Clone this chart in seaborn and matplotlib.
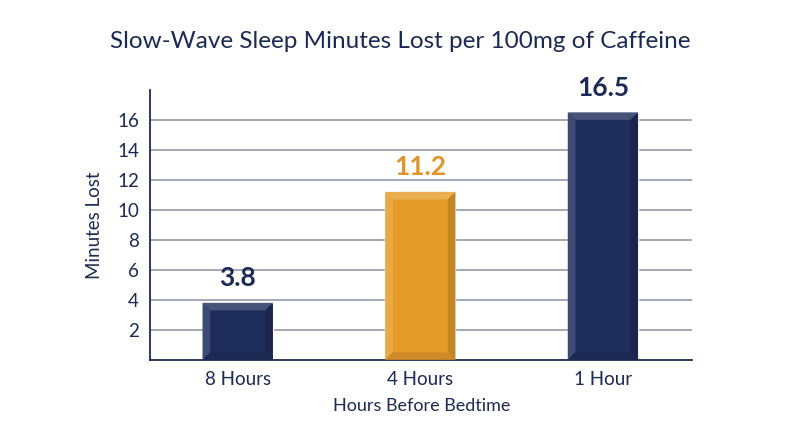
import pandas as pd
import matplotlib.pyplot as plt
import seaborn as sns
from matplotlib.patches import Polygon
from matplotlib.colors import to_rgb

categories = ['8 Hours', '4 Hours', '1 Hour']
minutes_lost = [3.8, 11.2, 16.5]
bar_colors = ['#1f2d5c', '#e59b2a', '#1f2d5c']
y_ticks = [2, 4, 6, 8, 10, 12, 14, 16]

NAVY = '#1c2a55'
FONT = ['Lato', 'DejaVu Sans']


def shade(color, f):
    r, g, b = to_rgb(color)
    if f > 0:
        return (r + (1 - r) * f, g + (1 - g) * f, b + (1 - b) * f)
    return (r * (1 + f), g * (1 + f), b * (1 + f))


def add_bevel(ax, patch, color, bx=0.042, by=0.5):
    x0, y0 = patch.get_x(), patch.get_y()
    x1, y1 = x0 + patch.get_width(), y0 + patch.get_height()
    faces = [
        ([(x0, y1), (x1, y1), (x1 - bx, y1 - by), (x0 + bx, y1 - by)], shade(color, 0.18)),
        ([(x0, y0), (x0, y1), (x0 + bx, y1 - by), (x0 + bx, y0 + by)], shade(color, 0.14)),
        ([(x1, y0), (x1, y1), (x1 - bx, y1 - by), (x1 - bx, y0 + by)], shade(color, -0.15)),
        ([(x0, y0), (x1, y0), (x1 - bx, y0 + by), (x0 + bx, y0 + by)], shade(color, -0.1)),
    ]
    for pts, c in faces:
        ax.add_patch(Polygon(pts, closed=True, facecolor=c, edgecolor='none', zorder=3))


df = pd.DataFrame({'when': categories, 'minutes': minutes_lost})

sns.set_style('white')
plt.rcParams['font.family'] = FONT

fig = plt.figure(figsize=(8, 4.47), dpi=100)
ax = fig.add_axes([0.1875, 0.195, 0.678, 0.604])

sns.barplot(data=df, x='when', y='minutes', hue='when', palette=bar_colors,
            width=0.385, legend=False, ax=ax, zorder=2, saturation=1)

for patch, c, v in zip(ax.patches, bar_colors, minutes_lost):
    add_bevel(ax, patch, c)
    label_color = '#e0952a' if c == '#e59b2a' else NAVY
    ax.text(patch.get_x() + patch.get_width() / 2, patch.get_height() + 0.85,
            f'{v}', ha='center', va='bottom', fontsize=19, fontweight='bold',
            color=label_color)

ax.set_xlim(-0.48, 2.49)
ax.set_ylim(0, 18)
ax.set_yticks(y_ticks)
ax.yaxis.grid(True, color='#8c91a3', linewidth=1.1)
ax.set_axisbelow(True)
for s in ['top', 'right']:
    ax.spines[s].set_visible(False)
ax.spines['left'].set_color(NAVY)
ax.spines['left'].set_linewidth(1.3)
ax.spines['bottom'].set_color(NAVY)
ax.spines['bottom'].set_linewidth(1.3)
ax.tick_params(axis='both', length=0, labelsize=13.5, colors=NAVY, pad=8)

ax.set_xlabel('Hours Before Bedtime', fontsize=13, color=NAVY, labelpad=7)
ax.set_ylabel('Minutes Lost', fontsize=13.5, color=NAVY, labelpad=10)
fig.suptitle('Slow-Wave Sleep Minutes Lost per 100mg of Caffeine',
             fontsize=17.5, color=NAVY, y=0.93)

fig.savefig('out.png', dpi=100, facecolor='white')
